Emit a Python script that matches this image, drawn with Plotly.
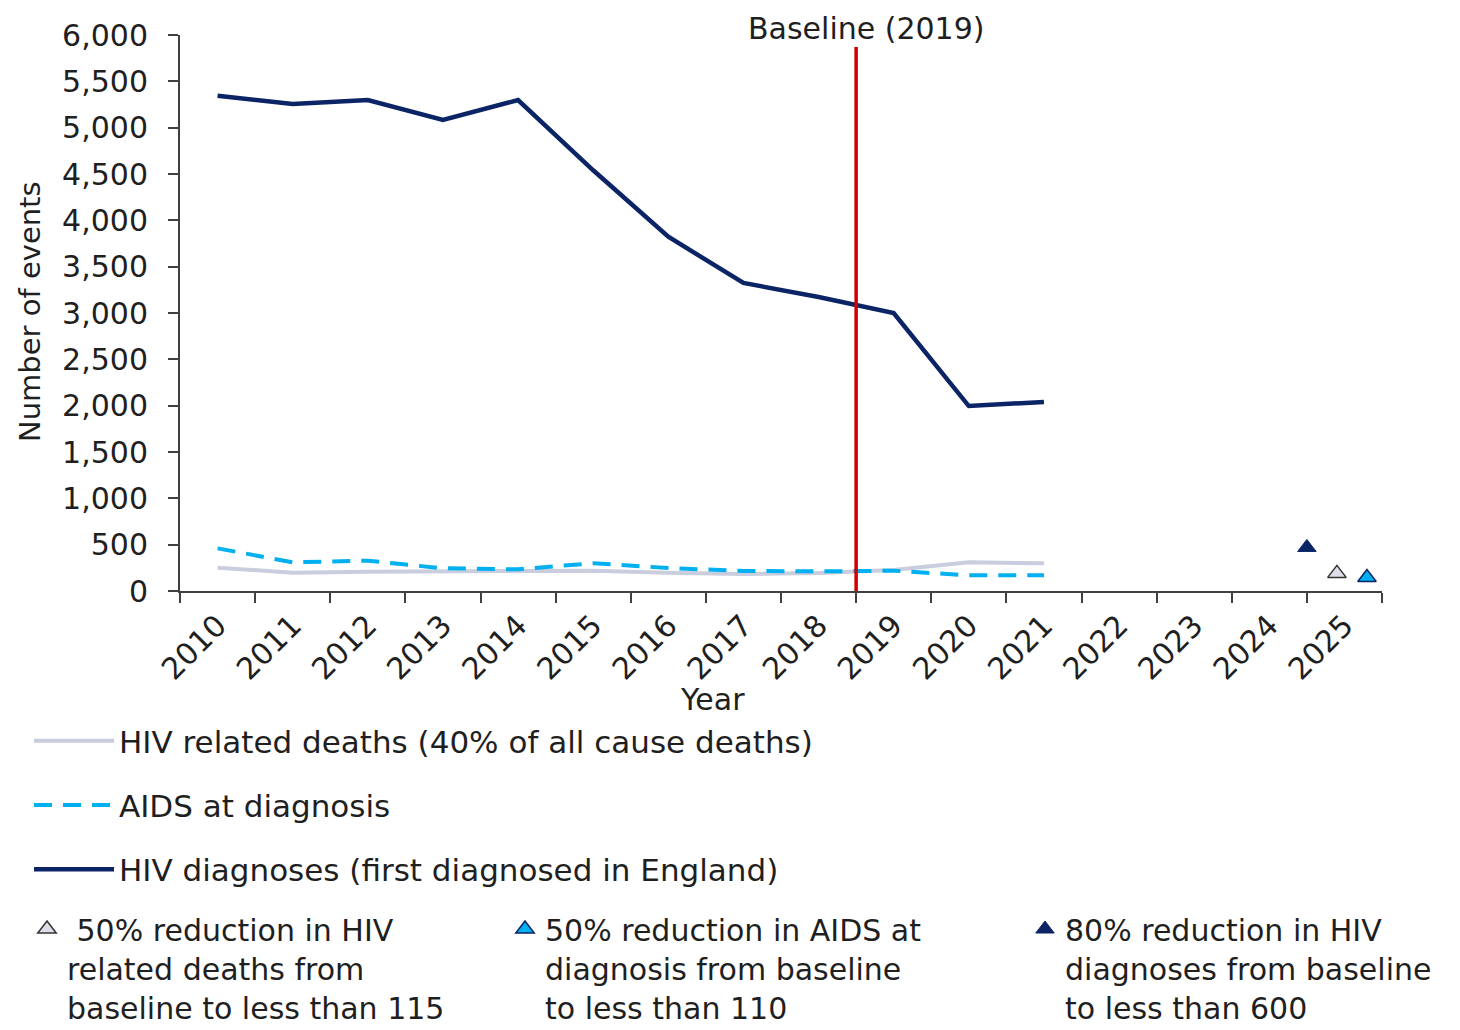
import plotly.graph_objects as go

# ---- data ----
years = [2010, 2011, 2012, 2013, 2014, 2015, 2016, 2017, 2018, 2019, 2020, 2021]
axis_years = list(range(2010, 2026))
hiv_deaths = [252, 198, 209, 215, 219, 219, 198, 183, 195, 227, 310, 299]
aids_at_diagnosis = [460, 310, 327, 245, 234, 300, 248, 216, 212, 219, 169, 169]
hiv_diagnoses = [5345, 5255, 5298, 5083, 5298, 4540, 3823, 3324, 3173, 3000, 1996, 2040]

baseline_year = 2019
baseline_top = 5870

target_deaths_x = [2024.9]
target_deaths_y = [190]
target_aids_x = [2025.3]
target_aids_y = [145]
target_diag_x = [2024.5]
target_diag_y = [470]

series_names = [
    "HIV related deaths (40% of all cause deaths)",
    "AIDS at diagnosis",
    "HIV diagnoses (first diagnosed in England)",
]
target_names = [
    " 50% reduction in HIV<br>related deaths from<br>baseline to less than 115",
    "50% reduction in AIDS at<br>diagnosis from baseline<br>to less than 110",
    "80% reduction in HIV<br>diagnoses from baseline<br>to less than 600",
]

FONT = "DejaVu Sans, Liberation Sans, Arial, sans-serif"
FS = 30
TXT = "#1f1f1f"
AX = "#404040"
NAVY = "#0a2466"
BLUE = "#00b0f0"
GREY = "#c9cddd"
RED = "#d00000"

# figure is drawn inside the page body (8px default margin)
W, H = 1452, 1022
L, R, T = 172, 78, 27
PH = 556
B = H - T - PH
PW = W - L - R


def px_to_paper_x(px):
    return (px - L) / PW


def px_to_paper_y(py):
    return (T + PH - py) / PH


fig = go.Figure()

fig.add_trace(go.Scatter(x=years, y=hiv_deaths, mode="lines", name=series_names[0],
                         line=dict(color=GREY, width=4), legend="legend", legendgroup="a"))
fig.add_trace(go.Scatter(x=years, y=aids_at_diagnosis, mode="lines", name=series_names[1],
                         line=dict(color=BLUE, width=4, dash="18px,11px"), legend="legend", legendgroup="b"))
fig.add_trace(go.Scatter(x=years, y=hiv_diagnoses, mode="lines", name=series_names[2],
                         line=dict(color=NAVY, width=4.5), legend="legend", legendgroup="c"))

fig.add_trace(go.Scatter(x=target_deaths_x, y=target_deaths_y, mode="markers", name=target_names[0],
                         marker=dict(symbol="triangle-up", size=16, color="#dcdde6",
                                     line=dict(color="#333333", width=1.5)), legend="legend2"))
fig.add_trace(go.Scatter(x=target_aids_x, y=target_aids_y, mode="markers", name=target_names[1],
                         marker=dict(symbol="triangle-up", size=16, color=BLUE,
                                     line=dict(color=NAVY, width=1.5)), legend="legend3"))
fig.add_trace(go.Scatter(x=target_diag_x, y=target_diag_y, mode="markers", name=target_names[2],
                         marker=dict(symbol="triangle-up", size=16, color=NAVY,
                                     line=dict(color=NAVY, width=1)), legend="legend4"))

# baseline line
fig.add_shape(type="line", xref="x", yref="y",
              x0=baseline_year - 0.5, x1=baseline_year - 0.5, y0=0, y1=baseline_top,
              line=dict(color=RED, width=3.5))

fig.add_annotation(text="Baseline (2019)", xref="x", yref="paper",
                   x=baseline_year - 0.5, xshift=10, y=px_to_paper_y(20), yanchor="middle",
                   borderpad=0, showarrow=False, font=dict(family=FONT, size=FS, color=TXT))
fig.add_annotation(text="Year", xref="paper", yref="paper",
                   x=px_to_paper_x(704), y=px_to_paper_y(692), yanchor="middle",
                   showarrow=False, font=dict(family=FONT, size=FS, color=TXT))
fig.add_annotation(text="Number of events", xref="paper", yref="paper", textangle=-90,
                   x=px_to_paper_x(22), y=px_to_paper_y(304), xanchor="center", yanchor="middle",
                   showarrow=False, font=dict(family=FONT, size=FS - 1, color=TXT))


def legend_box(px, py, **kw):
    d = dict(xref="container", yref="container", x=px / W, y=1 - py / H,
             xanchor="left", yanchor="top", bgcolor="rgba(0,0,0,0)",
             font=dict(family=FONT, size=FS, color=TXT))
    d.update(kw)
    return d


fig.update_layout(
    width=W, height=H, autosize=False,
    margin=dict(l=L, r=R, t=T, b=B, autoexpand=False),
    paper_bgcolor="white", plot_bgcolor="white",
    font=dict(family=FONT, size=FS, color=TXT),
    showlegend=True,
    legend=legend_box(21, 706, orientation="v", itemwidth=80, tracegroupgap=21,
                      traceorder="grouped", font=dict(family=FONT, size=FS + 1, color=TXT)),
    legend2=legend_box(19, 895, orientation="v", valign="top"),
    legend3=legend_box(497, 895, orientation="v", valign="top"),
    legend4=legend_box(1017, 895, orientation="v", valign="top"),
    xaxis=dict(
        range=[2009.5, 2025.5], tickmode="array", tickvals=axis_years,
        ticktext=[str(y) for y in axis_years], tickangle=-45, ticks="",
        ticklabelstandoff=3,
        showline=True, linecolor=AX, linewidth=2, showgrid=False, zeroline=False,
        tickfont=dict(family=FONT, size=FS, color=TXT),
        minor=dict(tickmode="array", tickvals=[y - 0.5 for y in axis_years] + [axis_years[-1] + 0.5],
                   ticks="outside", ticklen=10, tickwidth=2, tickcolor=AX, showgrid=False),
    ),
    yaxis=dict(
        range=[0, 6000], tickmode="linear", tick0=0, dtick=500, tickformat=",",
        ticks="outside", ticklen=10, tickwidth=2, tickcolor=AX, ticklabelstandoff=14,
        showline=True, linecolor=AX, linewidth=2, showgrid=False, zeroline=False,
        tickfont=dict(family=FONT, size=FS, color=TXT),
    ),
)

fig.write_html("out.html")
